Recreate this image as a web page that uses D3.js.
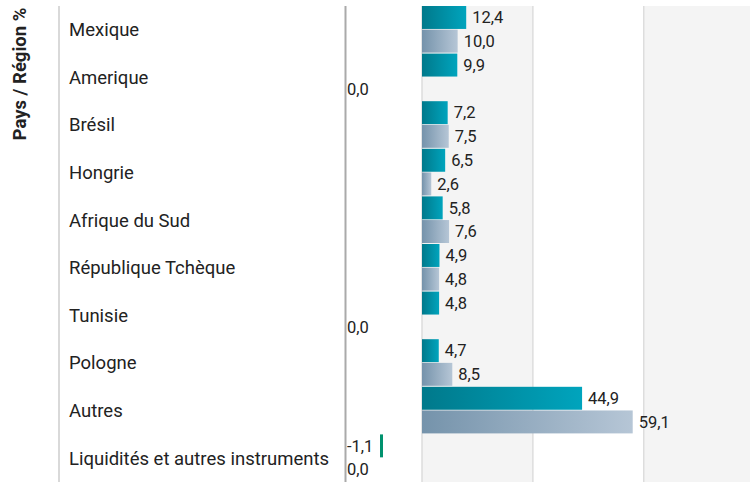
<!DOCTYPE html>
<html>
<head>
<meta charset="utf-8">
<script src="https://cdn.jsdelivr.net/npm/d3@7"></script>
<style>
  body { margin: 0; background: #fff; }
  svg text { font-family: Roboto, "Noto Sans", sans-serif; fill: #222; }
</style>
</head>
<body>
<div id="chart"></div>
<script>
const width = 750;
const height = 482;

const categories = ["Mexique", "Amerique", "Brésil", "Hongrie", "Afrique du Sud",
  "République Tchèque", "Tunisie", "Pologne", "Autres", "Liquidités et autres instruments"];
const fundValues = [12.4, 9.9, 7.2, 6.5, 5.8, 4.9, 4.8, 4.7, 44.9, -1.1];
const benchValues = [10.0, 0.0, 7.5, 2.6, 7.6, 4.8, 0.0, 8.5, 59.1, 0.0];
const xTicks = [0, 31.1, 62.2, 93.3];

const fmt = v => d3.format(".1f")(v).replace(".", ",").replace("−", "-");

const svg = d3.select("#chart")
  .append("svg")
  .attr("width", width)
  .attr("height", height);

const plotTop = 6;
const plotLeft = 422;

const y = d3.scaleBand().domain(categories).range([plotTop, height]);
const ySub = d3.scaleBand().domain([0, 1]).range([0, y.bandwidth() - 1]).paddingInner(0.03);
const x = d3.scaleLinear().domain([0, 92]).range([plotLeft, width]);

// gradients
const defs = svg.append("defs");
const grads = [
  {id: "gFund", from: "#00798b", to: "#00a4bd"},
  {id: "gBench", from: "#7593ab", to: "#b6c6d6"}
];
grads.forEach(g => {
  const lg = defs.append("linearGradient").attr("id", g.id)
    .attr("x1", 0).attr("x2", 1).attr("y1", 0).attr("y2", 0);
  lg.append("stop").attr("offset", "0%").attr("stop-color", g.from);
  lg.append("stop").attr("offset", "100%").attr("stop-color", g.to);
});

// alternating background bands
for (let i = 0; i < xTicks.length - 1; i++) {
  if (i % 2 === 0) {
    svg.append("rect")
      .attr("x", x(xTicks[i]))
      .attr("y", plotTop)
      .attr("width", x(xTicks[i + 1]) - x(xTicks[i]))
      .attr("height", height - plotTop)
      .attr("fill", "#f4f4f4");
  }
}

// grid lines
svg.selectAll(".grid")
  .data(xTicks.slice(0, 3))
  .enter()
  .append("line")
  .attr("x1", d => x(d)).attr("x2", d => x(d))
  .attr("y1", plotTop).attr("y2", height)
  .style("stroke", "#dddddd")
  .style("stroke-width", 1.5);

// left separators
svg.append("line")
  .attr("x1", 59).attr("x2", 59).attr("y1", plotTop).attr("y2", height)
  .style("stroke", "#cccccc").style("stroke-width", 1.5);
svg.append("line")
  .attr("x1", 345.5).attr("x2", 345.5).attr("y1", plotTop).attr("y2", height)
  .style("stroke", "#aaaaaa").style("stroke-width", 2);

// axis title
svg.append("text")
  .attr("transform", `translate(26, 74) rotate(-90)`)
  .attr("text-anchor", "middle")
  .style("font-size", "18.5px")
  .style("font-weight", "bold")
  .text("Pays / Région %");

// category labels
svg.selectAll(".cat")
  .data(categories)
  .enter()
  .append("text")
  .attr("x", 69)
  .attr("y", d => y(d) + y.bandwidth() / 2)
  .attr("dy", "0.35em")
  .style("font-size", "18.5px")
  .text(d => d);

const rows = [];
categories.forEach((c, i) => {
  rows.push({cat: c, s: 0, v: fundValues[i]});
  rows.push({cat: c, s: 1, v: benchValues[i]});
});

// positive bars
const pos = rows.filter(d => d.v > 0);
svg.selectAll(".bar")
  .data(pos)
  .enter()
  .append("rect")
  .attr("x", x(0))
  .attr("y", d => y(d.cat) + ySub(d.s))
  .attr("width", d => x(d.v) - x(0))
  .attr("height", ySub.bandwidth())
  .attr("fill", d => d.s === 0 ? "url(#gFund)" : "url(#gBench)");

svg.selectAll(".val")
  .data(pos)
  .enter()
  .append("text")
  .attr("x", d => x(d.v) + 6)
  .attr("y", d => y(d.cat) + ySub(d.s) + ySub.bandwidth() / 2)
  .attr("dy", "0.35em")
  .style("font-size", "16.5px")
  .text(d => fmt(d.v));

// zero / negative values in the side column
const other = rows.filter(d => d.v <= 0);
svg.selectAll(".neg")
  .data(other.filter(d => d.v < 0))
  .enter()
  .append("rect")
  .attr("x", 380)
  .attr("y", d => y(d.cat) + ySub(d.s))
  .attr("width", 3)
  .attr("height", ySub.bandwidth())
  .attr("fill", "#00926e");

svg.selectAll(".oval")
  .data(other)
  .enter()
  .append("text")
  .attr("x", 347)
  .attr("y", d => y(d.cat) + ySub(d.s) + ySub.bandwidth() / 2)
  .attr("dy", "0.35em")
  .style("font-size", "16.5px")
  .text(d => fmt(d.v));
</script>
</body>
</html>
